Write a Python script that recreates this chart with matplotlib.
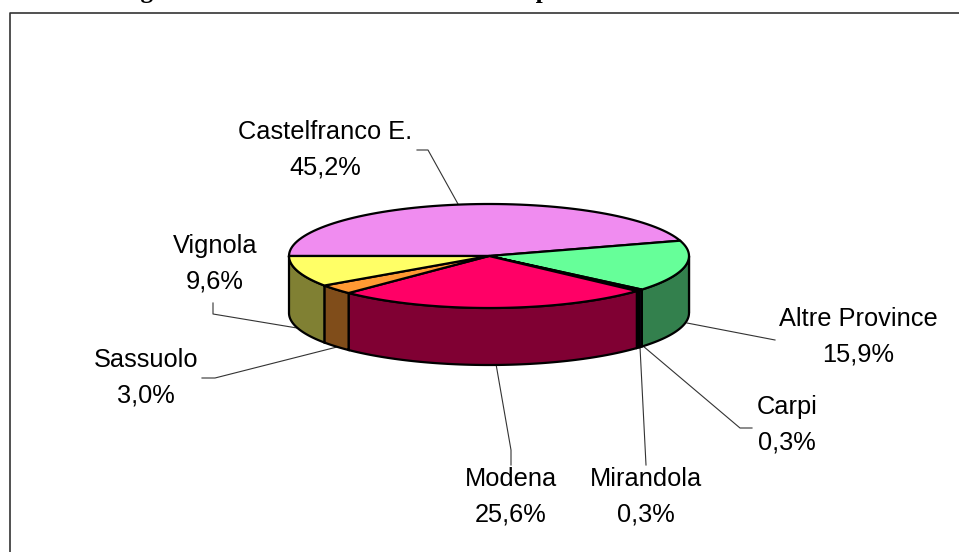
import matplotlib
matplotlib.use('Agg')
import matplotlib.pyplot as plt
import numpy as np

plt.rcParams['font.family'] = ['Liberation Sans', 'DejaVu Sans']

W, H = 959, 552

# slices clockwise, starting from the left edge of the pie
labels = ['Castelfranco E.', 'Altre Province', 'Carpi', 'Mirandola', 'Modena', 'Sassuolo', 'Vignola']
values = [45.2, 15.9, 0.3, 0.3, 25.6, 3.0, 9.6]
value_text = ['45,2%', '15,9%', '0,3%', '0,3%', '25,6%', '3,0%', '9,6%']
top_colors = ['#F08CF0', '#66FF99', '#6633CC', '#000000', '#FF0066', '#FF9933', '#FFFF66']
side_colors = ['#78467A', '#33804D', '#33196A', '#000000', '#800033', '#804D1A', '#808033']

label_xy = [(325, 150), (858, 337), (787, 425), (646, 497), (511, 497), (146, 378), (215, 264)]
leaders = [[(458, 204), (428, 150), (417, 150)],
           [(687, 323), (775, 340)],
           [(643, 346), (740, 428), (752, 428)],
           [(640, 347), (646, 465)],
           [(496, 364), (511, 450), (511, 465)],
           [(337, 347), (215, 378), (202, 378)],
           [(297, 328), (213, 314), (213, 303)]]

cx, cy = 489, 256
rx, ry = 200, 52
depth = 57

fig = plt.figure(figsize=(W / 100, H / 100), dpi=100)
ax = fig.add_axes([0, 0, 1, 1])
ax.set_xlim(0, W)
ax.set_ylim(H, 0)
ax.axis('off')

# page frame, only left and top show
ax.plot([9.5, 9.5, W], [H, 13, 13], color='#333333', lw=1.2)

# title cut by the top of the page
ax.text(393, -2, 'Figura 2 - Distribuzione dei comuni di provenienza', family='Liberation Serif',
        fontsize=18.2, fontweight='bold', ha='center', va='baseline')

# pie angles in degrees, clockwise from the left edge
edges = np.cumsum([0] + values) / sum(values) * 360


def pt(a):
    a = np.radians(a)
    return cx - rx * np.cos(a), cy - ry * np.sin(a)


# side walls
for i in range(len(values)):
    a = np.linspace(edges[i], edges[i + 1], 80)
    a = a[(a >= 180) & (a <= 360)]
    if len(a) < 2:
        a = np.array([max(edges[i], 180), edges[i + 1]])
    x, y = pt(a)
    ax.fill(np.r_[x, x[::-1]], np.r_[y, y[::-1] + depth], fc=side_colors[i], ec='black', lw=1.6, zorder=2)

# top faces
for i in range(len(values)):
    a = np.linspace(edges[i], edges[i + 1], 80)
    x, y = pt(a)
    ax.fill(np.r_[cx, x], np.r_[cy, y], fc=top_colors[i], ec='black', lw=1.6, zorder=3)

# leader lines and labels
for pts in leaders:
    ax.plot(*zip(*pts), color='#333333', lw=0.8, zorder=1)
for name, val, (x, y) in zip(labels, value_text, label_xy):
    ax.text(x, y, name + '\n' + val, fontsize=18.3, ha='center', va='center', linespacing=1.58)

fig.savefig('out.png', dpi=100)
plt.close(fig)
